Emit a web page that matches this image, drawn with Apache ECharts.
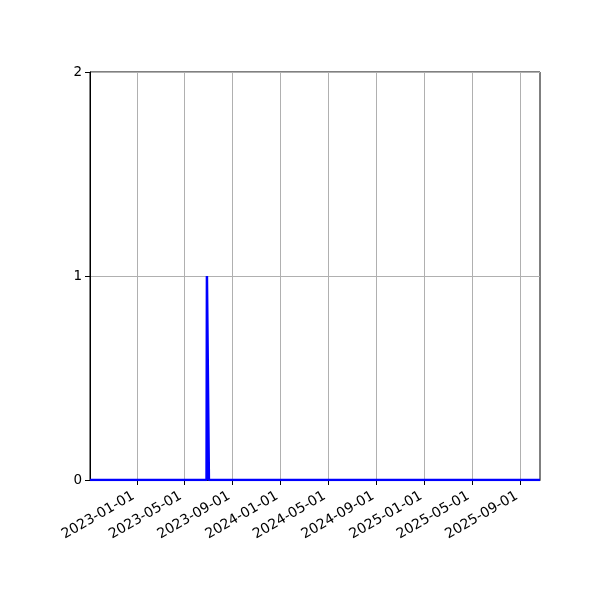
<!DOCTYPE html>
<html>
<head>
<meta charset="utf-8">
<script src="https://cdn.jsdelivr.net/npm/echarts@6/dist/echarts.min.js"></script>
<style>
  html, body { margin: 0; padding: 0; background: #fff; }
  #chart { width: 600px; height: 600px; }
</style>
</head>
<body>
<div id="chart"></div>
<script>
// data
var lineDates = ['2022-09-04', '2023-06-27', '2023-06-28', '2023-07-02', '2023-07-03', '2025-10-21'];
var lineValues = [0, 0, 1, 1, 0, 0];
var tickDates = ['2023-01-01', '2023-05-01', '2023-09-01', '2024-01-01', '2024-05-01',
                 '2024-09-01', '2025-01-01', '2025-05-01', '2025-09-01'];
var yTicks = [0, 1, 2];
var xStart = '2022-09-04';
var xEnd = '2025-10-21';

function pad(n) { return n < 10 ? '0' + n : '' + n; }
function fmtDate(ts) {
    var d = new Date(ts);
    return d.getUTCFullYear() + '-' + pad(d.getUTCMonth() + 1) + '-' + pad(d.getUTCDate());
}

var seriesData = lineDates.map(function (d, i) {
    return [Date.parse(d), lineValues[i]];
});
var tickTs = tickDates.map(function (d) { return Date.parse(d); });

var myChart = echarts.init(document.getElementById('chart'));
var option = {
    backgroundColor: '#fff',
    animation: false,
    grid: {
        left: 90,
        right: 60,
        top: 72,
        bottom: 120,
        show: true,
        borderColor: '#000',
        borderWidth: 1
    },
    xAxis: {
        type: 'value',
        min: Date.parse(xStart),
        max: Date.parse(xEnd),
        axisLine: { show: true, onZero: false, lineStyle: { color: '#000', width: 1 } },
        axisTick: {
            show: true,
            length: 5,
            customValues: tickTs,
            lineStyle: { color: '#000' }
        },
        axisLabel: {
            customValues: tickTs,
            rotate: 30,
            margin: 13,
            padding: [0, 4, 0, 0],
            color: '#000',
            fontSize: 14,
            fontFamily: 'DejaVu Sans',
            formatter: function (v) { return fmtDate(v); }
        },
        splitLine: { show: true, lineStyle: { color: '#b0b0b0', width: 1 } }
    },
    yAxis: {
        type: 'value',
        min: yTicks[0],
        max: yTicks[yTicks.length - 1],
        interval: 1,
        axisLine: { show: true, lineStyle: { color: '#000', width: 1 } },
        axisTick: { show: true, length: 5, lineStyle: { color: '#000' } },
        axisLabel: {
            color: '#000',
            fontSize: 13.5,
            fontFamily: 'DejaVu Sans',
            margin: 8
        },
        splitLine: { show: true, lineStyle: { color: '#b0b0b0', width: 1 } }
    },
    series: [{
        type: 'line',
        data: seriesData,
        showSymbol: false,
        lineStyle: { color: '#0000ff', width: 2.5 },
        itemStyle: { color: '#0000ff' }
    }]
};
myChart.setOption(option);
</script>
</body>
</html>
